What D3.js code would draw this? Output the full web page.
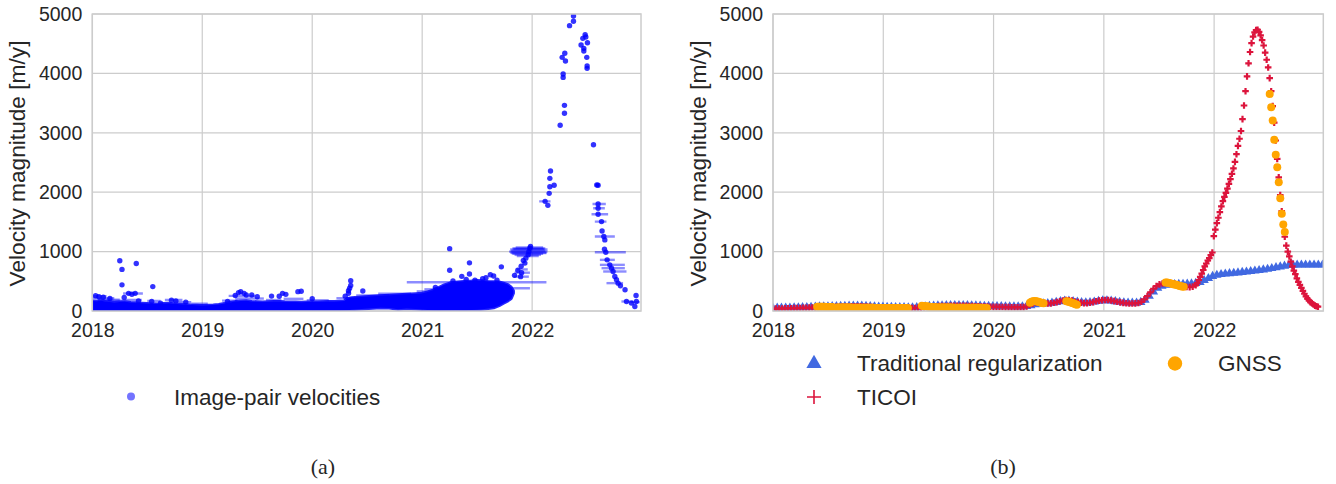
<!DOCTYPE html>
<html>
<head>
<meta charset="utf-8">
<script src="https://cdn.jsdelivr.net/npm/d3@7"></script>
<style>
  html, body { margin: 0; padding: 0; background: #ffffff; }
  svg { display: block; }
  text { font-family: "Liberation Sans", Arial, sans-serif; fill: #262626; }
  .caption { font-family: "Liberation Serif", "Times New Roman", serif; }
</style>
</head>
<body>
<svg id="fig" width="1336" height="484"></svg>
<script>
// ---------- shared axes ----------
const yearTicks = [2018, 2019, 2020, 2021, 2022];
const velocityTicks = [0, 1000, 2000, 3000, 4000, 5000];
const yearSpan = [2018, 2022.99];
const velocitySpan = [0, 5000];

// ---------- (a) image-pair velocities ----------
// dense cloud of pairs before the surge: lower / upper envelope (m/y)
const cloudYears = [2018.00,2018.04,2018.08,2018.12,2018.16,2018.20,2018.25,2018.30,2018.35,2018.40,
  2018.45,2018.50,2018.55,2018.60,2018.65,2018.70,2018.75,2018.80,2018.85,2018.90,
  2018.95,2019.00,2019.05,2019.10,2019.15,2019.20,2019.25,2019.30,2019.35,2019.40,
  2019.45,2019.50,2019.55,2019.60,2019.65,2019.70,2019.75,2019.80,2019.85,2019.90,
  2019.95,2020.00,2020.05,2020.10,2020.15,2020.20,2020.25,2020.29,2020.32,2020.36,
  2020.42,2020.48,2020.55,2020.62,2020.70,2020.78,2020.86,2020.94,2021.00,2021.05,
  2021.10,2021.15,2021.20,2021.25,2021.30,2021.35,2021.40,2021.45,2021.50,2021.55,
  2021.60,2021.65,2021.70,2021.74,2021.78,2021.81,2021.83];
const cloudLow = [6,6,6,6,6,6,6,6,6,6, 6,6,6,6,6,6,6,6,6,6,
  6,6,6,6,6,6,6,6,6,6, 6,6,6,6,6,6,6,6,6,6,
  6,6,6,6,6,6,6,8,14,22, 30,38,45,55,50,30,40,35,25,15,
  8,6,8,10,12,8,10,15,20,30, 40,55,90,130,170,210,300];
const cloudHigh = [170,165,172,160,150,142,150,156,145,138, 132,128,122,118,126,132,120,114,108,100,
  96,92,96,100,108,125,142,158,168,172, 162,155,150,156,160,162,155,152,150,148,
  150,152,150,155,158,160,165,168,210,222, 232,240,250,258,264,272,280,290,298,320,
  350,395,440,470,485,492,500,505,515,508, 498,494,490,470,445,400,340];

// individual pair velocities (central date, m/y)
const pairYears = [2018.03,2018.06,2018.10,2018.16,2018.25,2018.27,2018.27,2018.29,2018.33,2018.36,
  2018.39,2018.40,2018.42,2018.55,2018.54,2018.62,2018.72,2018.76,2018.85,
  2019.23,2019.30,2019.33,2019.35,2019.38,2019.40,2019.45,2019.50,2019.63,2019.70,
  2019.73,2019.76,2019.87,2019.90,2020.00,
  2020.30,2020.33,2020.34,2020.35,2020.35,2020.33,2020.46,
  2021.25,2021.25,2021.43,2021.43,2021.36,2021.58,2021.72,2021.62,2021.65,
  2021.28,2021.40,2021.48,2021.55,2021.68,2021.12,
  2021.84,2021.87,2021.895,2021.904,2021.90,2021.934,2021.943,2021.964,2021.97,2021.979,2021.985,2021.92,
  2022.118,2022.143,2022.155,2022.161,2022.161,2022.167,2022.20,2022.255,2022.294,2022.294,
  2022.282,2022.282,2022.303,2022.273,2022.297,2022.34,2022.376,2022.376,2022.445,2022.461,
  2022.47,2022.47,2022.482,2022.488,2022.503,2022.497,2022.50,2022.50,
  2022.558,2022.588,2022.60,2022.60,2022.60,2022.60,2022.631,2022.636,2022.652,2022.661,
  2022.658,2022.67,2022.682,2022.706,2022.722,2022.736,2022.752,2022.767,2022.782,2022.803,
  2022.845,2022.858,2022.903,2022.934,2022.948,2022.945];
const pairValues = [257,240,232,211,845,700,440,229,297,282,
  297,800,170,411,160,130,183,170,150,
  160,262,310,326,297,270,269,240,251,248,
  297,280,326,332,206,
  250,300,383,509,430,340,337,
  1050,686,811,623,583,560,743,611,590,
  505,530,520,545,520,395,
  600,685,578,645,753,806,890,946,1000,1058,1086,850,
  1846,1779,1981,2093,2233,2357,2116,3126,3328,3462,
  3933,3990,4209,4270,4339,4804,4877,4966,4478,4590,
  4422,4377,4652,4613,4517,4270,4124,4085,
  2800,2121,2116,1802,1730,1629,1505,1348,1253,1197,
  1040,990,861,777,721,665,581,525,469,424,
  357,161,133,77,161,262];

// time spans of the image pairs (first date, second date, m/y)
const spanStart = [2018.00,2018.00,2018.05,2018.28,2018.30,2018.50,2018.66,2018.74,2018.12,2018.90,
  2019.18,2019.24,2019.30,2019.58,2019.74,2020.22,2019.95,2020.40,2020.60,2020.95,2021.02,
  2020.86,2021.10,2021.28,2021.84,2021.83,2021.86,
  2021.79,2021.80,2021.81,2021.82,2021.80,2021.84,2021.82,2021.85,2021.86,2021.83,2021.81,
  2022.064,2022.570,2022.549,2022.555,2022.540,2022.570,2022.570,2022.570,
  2022.616,2022.616,2022.631,2022.646,2022.676,2022.812,2022.903];
const spanEnd = [2018.13,2018.20,2018.25,2018.46,2018.45,2018.62,2018.82,2018.90,2018.30,2019.05,
  2019.32,2019.48,2019.56,2019.72,2019.92,2020.45,2020.15,2020.70,2020.90,2021.20,2021.30,
  2022.13,2021.98,2021.62,2021.98,2021.97,2021.96,
  2022.14,2022.13,2022.12,2022.10,2022.14,2022.08,2022.12,2022.10,2022.06,2022.11,2022.13,
  2022.167,2022.616,2022.670,2022.661,2022.691,2022.676,2022.752,2022.852,
  2022.752,2022.843,2022.843,2022.858,2022.827,2022.918,2022.979];
const spanValue = [250,215,190,295,185,170,185,150,175,125,
  175,255,210,185,205,215,180,262,290,330,365,
  483,382,300,645,578,700,
  1000,985,1015,965,1035,945,1055,1070,925,1045,975,
  1846,2121,1802,1730,1629,1505,1253,990,
  861,777,721,665,469,160,150];

// ---------- (b) reconstructed series ----------
const seriesOrigin = 2018;            // day 0 = 1 January 2018
const tradStepDays = 14;
const tradValues = [48,50,51,52,54,57,58,60,62,65,
  68,71,74,75,77,78,81,83,85,87,
  87,85,82,78,73,70,67,65,63,62,
  60,59,58,58,60,65,72,81,87,90,
  91,93,94,95,96,96,94,91,88,85,
  83,81,78,77,76,74,73,72,72,74,
  80,92,110,120,124,126,135,148,160,168,
  168,162,152,144,140,144,155,166,174,175,
  170,160,150,142,137,135,136,148,185,250,
  325,385,420,437,445,448,450,452,455,460,
  468,485,515,550,585,605,618,626,632,638,
  645,652,660,668,676,685,695,706,718,732,
  746,758,768,774,777,778,778,778,778,778,
  778];

const ticoiCoarseStepDays = 10;
const ticoiCoarse = [40,41,42,43,44,46,47,49,50,51,
  52,54,56,58,60,62,64,66,67,68,
  69,70,72,74,75,77,78,79,79,78,
  76,73,70,67,64,62,60,58,56,55,
  54,53,52,51,50,50,50,51,53,57,
  62,68,74,78,80,82,83,84,85,86,
  87,88,88,88,87,85,83,80,78,76,
  75,73,72,70,69,68,67,66,65,64,
  64,64,65,66,75,100,125,145,146,140,
  132,126,128,138,150,165,178,185,182,174,
  160,150,140,133,132,138,150,163,174,182,
  186,184,176,166,155,145,136,130,127,126,
  128,135,155,195,250,315,375,420,448,462,
  468,470,466,456,442,428,415,405,402,410,
  435];
const ticoiFineFirstDay = 1405;
const ticoiFineStepDays = 5;
const ticoiFine = [470,520,575,630,690,750,800,850,890,940,
  985,1260,1370,1480,1570,1665,1760,1850,1920,1990,
  2060,2140,2220,2310,2400,2510,2640,2780,2900,3030,
  3230,3460,3700,3950,4170,4360,4510,4620,4690,4730,
  4735,4700,4640,4560,4470,4350,4230,4100,3920,3700,
  3450,3170,2870,2560,2250,1950,1680,1450,1250,1100,
  1000,920,830,750,680,620,550,490,440,390,
  340,290,245,210,180,150,130,110,90,80,
  72];

const gnssStepDays = 5;
const gnssRunStarts = [2018.40, 2018.58, 2019.35, 2020.33, 2020.66, 2021.56, 2022.504];
const gnssRuns = [
  [72,72,71,71,70,70,69,69,68,68,67],
  [60,60,59,59,58,58,58,57,57,57,56,56,56,55,55,55,55,54,54,54,54,53,53,53,53,52,52,52,52,52,
   51,51,51,51,51,50,50,50,50,50,50,50,49,49,49,49,49,49],
  [90,86,82,78,74,70,67,65,63,62,61,60,60,59,59,58,58,58,57,57,57,56,56,56,56,55,55,55,55,55,
   54,54,54,54,54,53,53,53,53,53,52,52,52,52],
  [140,155,165,168,165,158,150,142,136,132],
  [165,160,152,145,135,125,115,105],
  [480,478,472,466,460,452,445,440,432,425,418,412,408],
  [3655,3430,3206,2881,2629,2422,2169,1900,1637,1457,1328]
];

// ---------- colours ----------
const pairBlue = "#0000ff";
const tradColor = "#4169e1";
const ticoiColor = "#dc143c";
const gnssColor = "#ffa500";
const gridColor = "#cccccc";

// ---------- layout ----------
const svg = d3.select("#fig");
const plotTop = 14, plotBottom = 311;

function panel(id, left, right, labelX) {
  const x = d3.scaleLinear().domain(yearSpan).range([left, right]);
  const y = d3.scaleLinear().domain(velocitySpan).range([plotBottom, plotTop]);
  const root = svg.append("g").attr("class", "panel-" + id);

  svg.append("clipPath").attr("id", "clip-" + id)
    .append("rect").attr("x", left).attr("y", plotTop)
    .attr("width", right - left).attr("height", plotBottom - plotTop);

  const grid = root.append("g").attr("stroke", gridColor).attr("stroke-width", 1.2);
  grid.selectAll("line.v").data(yearTicks).join("line").attr("class", "v")
    .attr("x1", d => x(d)).attr("x2", d => x(d)).attr("y1", plotTop).attr("y2", plotBottom);
  grid.selectAll("line.h").data(velocityTicks).join("line").attr("class", "h")
    .attr("x1", left).attr("x2", right).attr("y1", d => y(d)).attr("y2", d => y(d));

  const xAxis = d3.axisBottom(x).tickValues(yearTicks).tickFormat(d3.format("d"))
    .tickSize(0).tickPadding(12);
  root.append("g").attr("transform", `translate(0,${plotBottom})`).call(xAxis)
    .call(g => g.select(".domain").remove())
    .attr("font-family", null).attr("font-size", 19.5);

  const yAxis = d3.axisLeft(y).tickValues(velocityTicks).tickFormat(d3.format("d"))
    .tickSize(0).tickPadding(10);
  root.append("g").attr("transform", `translate(${left},0)`).call(yAxis)
    .call(g => g.select(".domain").remove())
    .attr("font-family", null).attr("font-size", 19.5);

  root.append("text")
    .attr("transform", `translate(${labelX},${(plotTop + plotBottom) / 2 + 1}) rotate(-90)`)
    .attr("text-anchor", "middle").attr("font-size", 22.7)
    .text("Velocity magnitude [m/y]");

  const marks = root.append("g").attr("clip-path", `url(#clip-${id})`);
  const frame = () => root.append("rect")
    .attr("x", left).attr("y", plotTop).attr("width", right - left)
    .attr("height", plotBottom - plotTop)
    .attr("fill", "none").attr("stroke", gridColor).attr("stroke-width", 1.5);
  return { x, y, marks, frame };
}

// ---------- panel (a) ----------
const A = panel("a", 92.3, 641, 25);

const cloudIdx = d3.range(cloudYears.length);
A.marks.append("path")
  .datum(cloudIdx)
  .attr("d", d3.area()
    .x(i => A.x(cloudYears[i]))
    .y0(i => A.y(cloudLow[i]))
    .y1(i => A.y(cloudHigh[i])))
  .attr("fill", pairBlue)
  .attr("stroke", pairBlue).attr("stroke-width", 3).attr("stroke-linejoin", "round")
  .attr("stroke-opacity", 0.85);

A.marks.append("g").selectAll("line")
  .data(d3.range(spanStart.length)).join("line")
  .attr("x1", i => A.x(spanStart[i])).attr("x2", i => A.x(spanEnd[i]))
  .attr("y1", i => A.y(spanValue[i])).attr("y2", i => A.y(spanValue[i]))
  .attr("stroke", pairBlue).attr("stroke-width", 2.4).attr("stroke-opacity", 0.45);

A.marks.append("g").selectAll("circle")
  .data(d3.range(pairYears.length)).join("circle")
  .attr("cx", i => A.x(pairYears[i])).attr("cy", i => A.y(pairValues[i]))
  .attr("r", 2.7).attr("fill", pairBlue).attr("fill-opacity", 0.8);
A.frame();

// legend (a)
svg.append("circle").attr("cx", 131).attr("cy", 396.5).attr("r", 4)
  .attr("fill", pairBlue).attr("fill-opacity", 0.55);
svg.append("text").attr("x", 174).attr("y", 405).attr("font-size", 22.5)
  .text("Image-pair velocities");
svg.append("text").attr("class", "caption").attr("x", 323).attr("y", 474)
  .attr("text-anchor", "middle").attr("font-size", 22).text("(a)");

// ---------- panel (b) ----------
const B = panel("b", 773, 1323.3, 706);
const toYear = day => seriesOrigin + day / 365.25;

const tradPts = tradValues.map((v, i) => ({ t: toYear(i * tradStepDays), v }));
const ticoiPts = ticoiCoarse.map((v, i) => ({ t: toYear(i * ticoiCoarseStepDays), v }))
  .concat(ticoiFine.map((v, k) => ({ t: toYear(ticoiFineFirstDay + k * ticoiFineStepDays), v })));
const gnssPts = gnssRuns.flatMap((run, r) =>
  run.map((v, i) => ({ t: gnssRunStarts[r] + i * gnssStepDays / 365.25, v })));

const triangle = d3.symbol(d3.symbolTriangle, 38)();
B.marks.append("g").selectAll("path")
  .data(tradPts).join("path")
  .attr("d", triangle)
  .attr("transform", d => `translate(${B.x(d.t)},${B.y(d.v)})`)
  .attr("fill", tradColor);

const plus = "M-3.3,0H3.3M0,-3.3V3.3";
B.marks.append("g").selectAll("path")
  .data(ticoiPts).join("path")
  .attr("d", plus)
  .attr("transform", d => `translate(${B.x(d.t)},${B.y(d.v)})`)
  .attr("fill", "none").attr("stroke", ticoiColor).attr("stroke-width", 2.2);

B.marks.append("g").selectAll("circle")
  .data(gnssPts).join("circle")
  .attr("cx", d => B.x(d.t)).attr("cy", d => B.y(d.v)).attr("r", 4)
  .attr("fill", gnssColor);
B.frame();

// legend (b)
svg.append("path").attr("d", d3.symbol(d3.symbolTriangle, 100)())
  .attr("transform", "translate(814,363.5)").attr("fill", tradColor);
svg.append("text").attr("x", 857).attr("y", 371).attr("font-size", 22.5)
  .text("Traditional regularization");
svg.append("circle").attr("cx", 1175).attr("cy", 363.5).attr("r", 7.2).attr("fill", gnssColor);
svg.append("text").attr("x", 1218).attr("y", 371).attr("font-size", 22.5).text("GNSS");
svg.append("path").attr("d", "M-7,0H7M0,-7V7")
  .attr("transform", "translate(814,397)")
  .attr("stroke", ticoiColor).attr("stroke-width", 1.6).attr("fill", "none");
svg.append("text").attr("x", 857).attr("y", 405).attr("font-size", 22.5).text("TICOI");
svg.append("text").attr("class", "caption").attr("x", 1003).attr("y", 474)
  .attr("text-anchor", "middle").attr("font-size", 22).text("(b)");
</script>
</body>
</html>
